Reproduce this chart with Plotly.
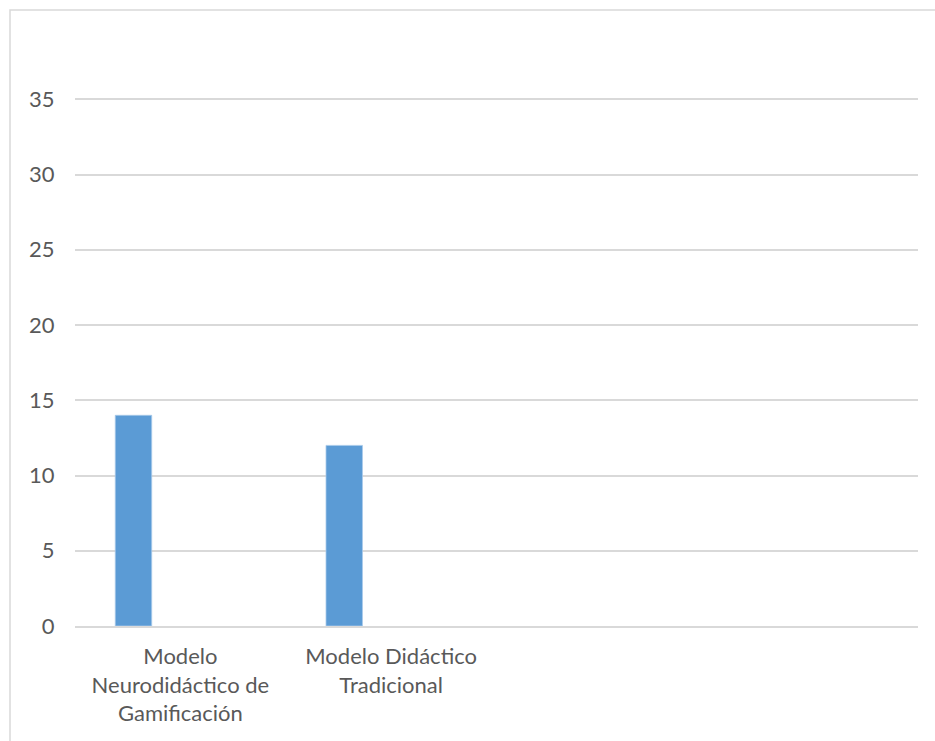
import plotly.graph_objects as go

categories = ["Modelo<br>Neurodidáctico de<br>Gamificación", "Modelo Didáctico<br>Tradicional", "", ""]
values = [14, 12, None, None]
y_ticks = [0, 5, 10, 15, 20, 25, 30, 35]

idx = list(range(len(categories)))

W, H = 935, 741
L, R, T, B = 75, 17, 97, 115
pw, ph = W - L - R, H - T - B

fig = go.Figure()
fig.add_trace(go.Bar(
    x=idx, y=values,
    width=0.173, offset=-0.309,
    marker=dict(color="#5b9bd5", line=dict(color="#a8c9ea", width=0.8)),
    hoverinfo="skip",
))

def px_to_paper_x(px):
    return (px - L) / pw

def px_to_paper_y(py):
    return (H - B - py) / ph

fig.add_shape(type="rect", xref="paper", yref="paper",
              x0=px_to_paper_x(10), x1=px_to_paper_x(950),
              y0=px_to_paper_y(760), y1=px_to_paper_y(10),
              line=dict(color="#d9d9d9", width=1.5), fillcolor="rgba(0,0,0,0)", layer="below")

fig.update_layout(
    width=W, height=H,
    margin=dict(l=L, r=R, t=T, b=B, pad=0),
    paper_bgcolor="white", plot_bgcolor="white",
    showlegend=False,
    font=dict(family="Lato, Carlito, sans-serif", size=22, color="#595959"),
    xaxis=dict(
        range=[-0.5, len(categories) - 0.5],
        tickmode="array", tickvals=idx, ticktext=categories,
        showgrid=False, zeroline=False,
        showline=True, linecolor="#d9d9d9", linewidth=1.5,
        ticks="outside", ticklen=10, tickcolor="rgba(0,0,0,0)",
        tickfont=dict(size=22, color="#595959"),
        fixedrange=True,
    ),
    yaxis=dict(
        range=[0, 35.15],
        tickmode="array", tickvals=y_ticks,
        showgrid=True, gridcolor="#d9d9d9", gridwidth=1.5,
        zeroline=False, showline=False,
        ticks="outside", ticklen=15, tickcolor="rgba(0,0,0,0)",
        tickfont=dict(size=22, color="#595959"),
        fixedrange=True,
    ),
)

fig.write_html("out.html")
